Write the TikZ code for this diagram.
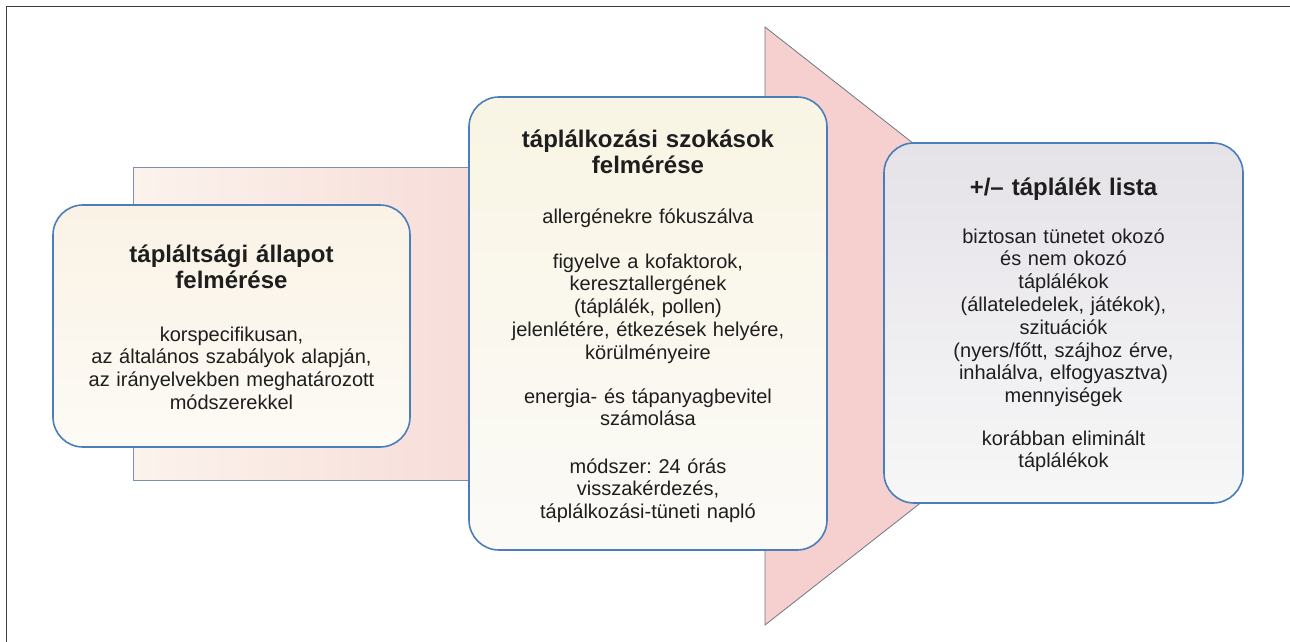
\documentclass[tikz,border=0pt]{standalone}
\usepackage{fontspec}
\setmainfont{Liberation Sans}
\frenchspacing
\definecolor{boxborder}{RGB}{74,126,187}
\definecolor{txt}{RGB}{30,30,30}
\definecolor{lefttop}{RGB}{250,242,229}
\definecolor{leftbot}{RGB}{253,251,246}
\definecolor{midtop}{RGB}{249,245,228}
\definecolor{midbot}{RGB}{251,250,247}
\definecolor{righttop}{RGB}{229,226,232}
\definecolor{rightbot}{RGB}{247,247,247}
\definecolor{bgleft}{RGB}{251,243,236}
\definecolor{bgright}{RGB}{247,221,217}
\definecolor{bgborder}{RGB}{125,145,175}
\definecolor{trifill}{RGB}{246,208,206}
\definecolor{triborder}{RGB}{110,118,132}
\definecolor{frame}{RGB}{60,60,60}
\tikzset{
  stagebox/.style={draw=boxborder, line width=1.6pt, rounded corners=30pt, inner sep=0pt},
  titletext/.style={text=txt, align=center, text width=340pt, anchor=base, inner sep=0pt,
    font=\fontsize{24}{26}\selectfont\bfseries\frenchspacing},
  bodytext/.style={text=txt, align=center, text width=340pt, anchor=base, inner sep=0pt,
    font=\fontsize{20}{22.8}\selectfont\frenchspacing},
}
\begin{document}
\begin{tikzpicture}[x=1pt,y=-1pt]
\useasboundingbox (0,0) rectangle (1290,642);
% frame
\draw[frame, line width=1.5pt] (6.5,642) -- (6.5,6.5) -- (1290,6.5);
% background band
\shade[left color=bgleft, right color=bgright] (133,167) rectangle (470,480);
\draw[bgborder, line width=0.8pt] (470,167) -- (133,167) -- (133,480) -- (470,480);
% big arrow triangle
\coordinate (triA) at (765,27);
\coordinate (triB) at (1146,326);
\coordinate (triC) at (765,625);
\filldraw[fill=trifill, draw=triborder, line width=0.8pt] (triA) -- (triB) -- (triC) -- cycle;
% boxes
\node[stagebox, top color=lefttop, bottom color=leftbot, minimum width=357pt, minimum height=242pt] (left) at (231.5,326) {};
\node[stagebox, top color=midtop, bottom color=midbot, minimum width=358pt, minimum height=453pt] (mid) at (648,323.5) {};
\node[stagebox, top color=righttop, bottom color=rightbot, minimum width=359pt, minimum height=360pt] (right) at (1063.5,323) {};
% left texts
\node[titletext] (lt) at (231.5,262) {tápláltsági állapot\\felmérése};
\node[bodytext] (lb) at (231.5,341) {korspecifikusan,\\az általános szabályok alapján,\\az irányelvekben meghatározott\\módszerekkel};
% middle texts
\node[titletext] (mt) at (648,147) {táplálkozási szokások\\felmérése};
\node[bodytext] (m1) at (648,223) {allergénekre fókuszálva};
\node[bodytext] (m2) at (648,268) {figyelve a kofaktorok,\\keresztallergének\\(táplálék, pollen)\\jelenlétére, étkezések helyére,\\körülményeire};
\node[bodytext] (m3) at (648,403) {energia- és tápanyagbevitel\\számolása};
\node[bodytext] (m4) at (648,473) {módszer: 24 órás\\visszakérdezés,\\táplálkozási-tüneti napló};
% right texts
\node[titletext] (rt) at (1063.5,195) {+/– táplálék lista};
\node[bodytext] (r1) at (1063.5,243) {biztosan tünetet okozó\\és nem okozó\\táplálékok\\(állateledelek, játékok),\\szituációk\\(nyers/főtt, szájhoz érve,\\inhalálva, elfogyasztva)\\mennyiségek};
\node[bodytext] (r2) at (1063.5,445) {korábban eliminált\\táplálékok};
\end{tikzpicture}
\end{document}
